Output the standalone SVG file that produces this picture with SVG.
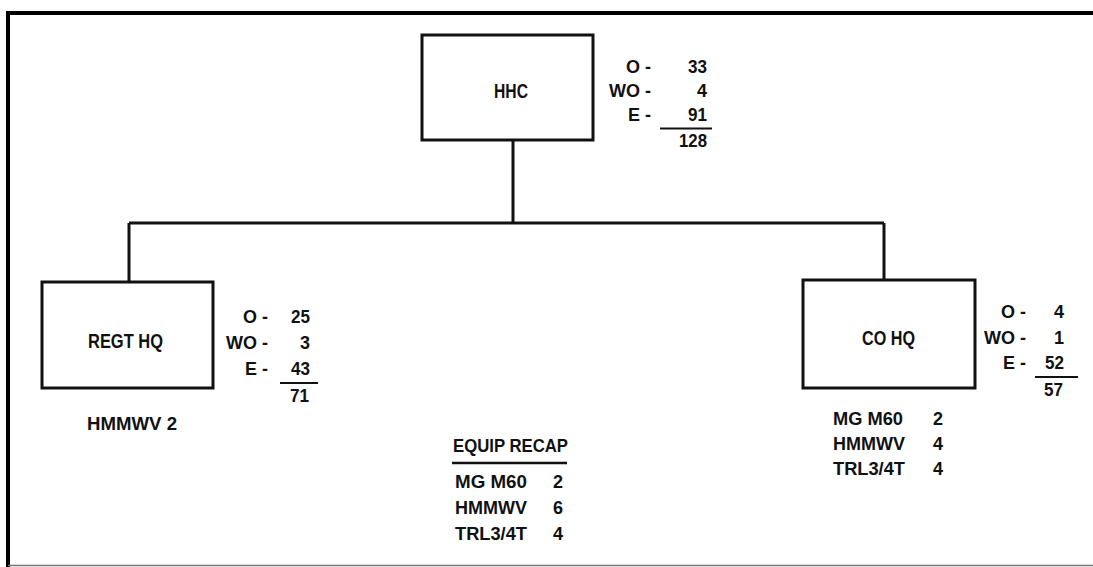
<svg xmlns="http://www.w3.org/2000/svg" width="1093" height="567" viewBox="0 0 1093 567">
<style>
text{font-family:"Liberation Sans",Arial,sans-serif;font-weight:bold;fill:#111;}
.lbl{font-size:20px;text-anchor:middle;}
.st{font-size:18px;}
.e{text-anchor:end;}
.box{fill:#fff;stroke:#111;stroke-width:3;}
.ln{stroke:#111;stroke-width:3;fill:none;}
.ul{stroke:#111;stroke-width:2;}
</style>
<rect x="0" y="0" width="1093" height="567" fill="#fff"/>
<path d="M1093,13 H8 V567" fill="none" stroke="#000" stroke-width="4"/>
<line x1="8" y1="565.5" x2="1093" y2="565.5" stroke="#777" stroke-width="1.5"/>
<g id="connectors">
<path class="ln" d="M513,140 V223 M129,223 H884 M129,223 V282 M884,223 V280"/>
</g>
<g id="hhc">
<rect class="box" x="422" y="35" width="171" height="105"/>
<text class="lbl" x="511" y="98" textLength="34" lengthAdjust="spacingAndGlyphs">HHC</text>
<text class="st e" x="651" y="73">O -</text>
<text class="st e" x="651" y="97">WO -</text>
<text class="st e" x="651" y="121">E -</text>
<text class="st e" x="707" y="73" textLength="19" lengthAdjust="spacingAndGlyphs">33</text>
<text class="st e" x="707" y="97">4</text>
<text class="st e" x="707" y="121" textLength="19" lengthAdjust="spacingAndGlyphs">91</text>
<line class="ul" x1="660" y1="128.5" x2="712" y2="128.5"/>
<text class="st e" x="707" y="147" textLength="28" lengthAdjust="spacingAndGlyphs">128</text>
</g>
<g id="regt-hq">
<rect class="box" x="42" y="282" width="171" height="106"/>
<text class="lbl" x="125.5" y="348" textLength="75" lengthAdjust="spacingAndGlyphs">REGT HQ</text>
<text class="st e" x="268" y="323">O -</text>
<text class="st e" x="268" y="349">WO -</text>
<text class="st e" x="268" y="375">E -</text>
<text class="st e" x="310" y="323" textLength="19" lengthAdjust="spacingAndGlyphs">25</text>
<text class="st e" x="310" y="349">3</text>
<text class="st e" x="310" y="375" textLength="19" lengthAdjust="spacingAndGlyphs">43</text>
<line class="ul" x1="280" y1="383" x2="318" y2="383"/>
<text class="st e" x="309" y="402" textLength="19" lengthAdjust="spacingAndGlyphs">71</text>
<text class="st" x="87" y="430" textLength="90" lengthAdjust="spacingAndGlyphs">HMMWV 2</text>
</g>
<g id="co-hq">
<rect class="box" x="803" y="280" width="172" height="108"/>
<text class="lbl" x="888.5" y="345" textLength="53" lengthAdjust="spacingAndGlyphs">CO HQ</text>
<text class="st e" x="1026" y="318">O -</text>
<text class="st e" x="1026" y="344">WO -</text>
<text class="st e" x="1026" y="369">E -</text>
<text class="st e" x="1064" y="318">4</text>
<text class="st e" x="1064" y="344">1</text>
<text class="st e" x="1064" y="369" textLength="19" lengthAdjust="spacingAndGlyphs">52</text>
<line class="ul" x1="1035" y1="377" x2="1078" y2="377"/>
<text class="st e" x="1063" y="396" textLength="19" lengthAdjust="spacingAndGlyphs">57</text>
<text class="st" x="833" y="425" textLength="70" lengthAdjust="spacingAndGlyphs">MG M60</text>
<text class="st" x="833" y="450" textLength="72" lengthAdjust="spacingAndGlyphs">HMMWV</text>
<text class="st" x="833" y="475" textLength="72" lengthAdjust="spacingAndGlyphs">TRL3/4T</text>
<text class="st e" x="943" y="425">2</text>
<text class="st e" x="943" y="450">4</text>
<text class="st e" x="943" y="475">4</text>
</g>
<g id="equip-recap">
<text class="st" x="453" y="452" textLength="115" lengthAdjust="spacingAndGlyphs">EQUIP RECAP</text>
<line x1="452" y1="463" x2="567" y2="463" stroke="#111" stroke-width="2.5"/>
<text class="st" x="455" y="488" textLength="72" lengthAdjust="spacingAndGlyphs">MG M60</text>
<text class="st" x="455" y="514" textLength="72" lengthAdjust="spacingAndGlyphs">HMMWV</text>
<text class="st" x="455" y="540" textLength="72" lengthAdjust="spacingAndGlyphs">TRL3/4T</text>
<text class="st e" x="563" y="488">2</text>
<text class="st e" x="563" y="514">6</text>
<text class="st e" x="563" y="540">4</text>
</g>
</svg>
